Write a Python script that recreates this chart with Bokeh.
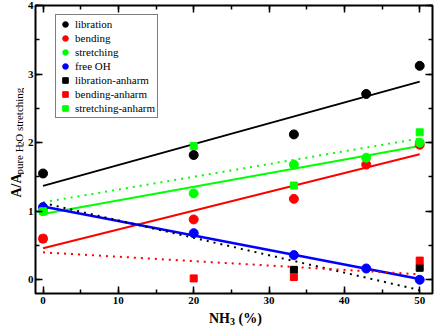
import math
from bokeh.plotting import figure
from bokeh.models import (Range1d, LinearAxis, SingleIntervalTicker, Legend, LegendItem,
                          CustomJSTickFormatter)
from bokeh.layouts import column, row
from bokeh.core.properties import value
from bokeh.embed import file_html
from bokeh.resources import INLINE

# ---------------- data ----------------
nh3 = [0, 20, 33.3, 42.9, 50]
libration = [1.55, 1.82, 2.12, 2.71, 3.12]
bending = [0.60, 0.88, 1.18, 1.68, 1.97]
stretching = [1.00, 1.26, 1.68, 1.78, 2.00]
free_oh = [1.06, 0.68, 0.36, 0.165, 0.00]

lib_anh_x = [33.3, 50]
libration_anharm = [0.145, 0.175]
nh3_anh = [0, 20, 33.3, 50]
bending_anharm = [0.60, 0.02, 0.04, 0.28]
stretching_anharm = [1.00, 1.95, 1.375, 2.15]

fit_x = [0, 50]
libration_fit = [1.37, 2.89]
bending_fit = [0.46, 1.83]
stretching_fit = [0.96, 1.95]
free_oh_fit = [1.07, 0.01]
libration_anharm_fit = [1.12, -0.15]
bending_anharm_fit = [0.40, 0.08]
stretching_anharm_fit = [1.13, 2.06]

legend_labels = ["libration", "bending", "stretching", "free OH",
                 "libration-anharm", "bending-anharm", "stretching-anharm"]
ylabel_parts = ["A/A", "pure H", "2", "O stretching"]
xlabel_parts = ["NH", "3", "(%)"]

FONT = "Liberation Serif"
W, H = 436, 327
YW = 24          # width of y-label strip
XH = 18          # height of x-label strip
MW, MH = W - YW, H - XH

# ---------------- main plot ----------------
p = figure(width=MW, height=MH, x_range=Range1d(-1, 51.7), y_range=Range1d(-0.2, 4),
           output_backend="svg", toolbar_location=None,
           x_axis_type=None, y_axis_type=None,
           min_border_left=9, min_border_right=4, min_border_top=5, min_border_bottom=16)
p.outline_line_color = "black"
p.outline_line_width = 2
p.xgrid.visible = False
p.ygrid.visible = False
p.background_fill_color = "white"
p.border_fill_color = "white"


def make_axis(interval, labels, standoff=3):
    ax = LinearAxis(ticker=SingleIntervalTicker(interval=interval, num_minor_ticks=2))
    ax.axis_label = None
    ax.axis_label_standoff = 0
    ax.axis_line_color = None
    ax.major_tick_in = 7
    ax.major_tick_out = 0
    ax.minor_tick_in = 4
    ax.minor_tick_out = 0
    ax.major_tick_line_width = 1.5
    ax.minor_tick_line_width = 1.5
    ax.major_tick_line_color = "black"
    ax.minor_tick_line_color = "black"
    if labels:
        ax.major_label_text_font = FONT
        ax.major_label_text_font_style = "bold"
        ax.major_label_text_font_size = "11px"
        ax.major_label_text_color = "black"
        ax.major_label_standoff = standoff
    else:
        ax.formatter = CustomJSTickFormatter(code="return ''")
        ax.major_label_standoff = 0
        ax.major_label_text_font_size = "1px"
    return ax


p.add_layout(make_axis(10, True, 3), "below")
p.add_layout(make_axis(10, False), "above")
p.add_layout(make_axis(1, True, 2), "left")
p.add_layout(make_axis(1, False), "right")

# fit lines
p.line(fit_x, libration_fit, line_color="black", line_width=2)
p.line(fit_x, bending_fit, line_color="#ff0000", line_width=2)
p.line(fit_x, stretching_fit, line_color="#00ff00", line_width=2)
p.line(fit_x, free_oh_fit, line_color="#0000ff", line_width=2.5)
p.line(fit_x, libration_anharm_fit, line_color="black", line_width=2, line_dash="2 5")
p.line(fit_x, bending_anharm_fit, line_color="#ff0000", line_width=2, line_dash="2 5")
p.line(fit_x, stretching_anharm_fit, line_color="#00ff00", line_width=2, line_dash="2 5")

# points
r1 = p.scatter(nh3, libration, marker="circle", size=9, color="black")
r2 = p.scatter(nh3, bending, marker="circle", size=9, color="#ff0000")
r3 = p.scatter(nh3, stretching, marker="circle", size=9, color="#00ff00")
r4 = p.scatter(nh3, free_oh, marker="circle", size=9, color="#0000ff")
r5 = p.scatter(lib_anh_x, libration_anharm, marker="square", size=7, color="black")
r6 = p.scatter(nh3_anh, bending_anharm, marker="square", size=7, color="#ff0000")
r7 = p.scatter(nh3_anh, stretching_anharm, marker="square", size=7, color="#00ff00")

rends = [r1, r2, r3, r4, r5, r6, r7]
legend = Legend(items=[LegendItem(label=l, renderers=[r]) for l, r in zip(legend_labels, rends)],
                location=(20, 175))
legend.margin = 0
legend.padding = 2
legend.spacing = 0
legend.glyph_width = 14
legend.glyph_height = 14
legend.label_height = 14
legend.label_standoff = 3
legend.label_text_font = FONT
legend.label_text_font_size = "11px"
legend.label_text_color = "black"
legend.label_text_baseline = "middle"
legend.border_line_color = "black"
legend.border_line_width = 1.5
legend.background_fill_color = "white"
legend.background_fill_alpha = 1
p.add_layout(legend, "center")


def strip(w, h):
    f = figure(width=w, height=h, x_range=Range1d(0, w), y_range=Range1d(0, h),
               x_axis_type=None, y_axis_type=None, toolbar_location=None,
               output_backend="svg", min_border=0, min_border_left=0, min_border_right=0,
               min_border_top=0, min_border_bottom=0)
    f.outline_line_color = None
    f.background_fill_color = "white"
    f.border_fill_color = "white"
    return f


def txt(f, x, y, s, size, bold, angle=0.0):
    f.text(x=[x], y=[y], text=[s], angle=angle, text_font=value(FONT),
           text_font_size=value(size), text_font_style="bold" if bold else "normal",
           text_color="black", text_align="left", text_baseline="alphabetic")


# ---------------- y label strip (rotated, reads bottom-to-top) ----------------
yf = strip(YW, MH)
A = math.pi / 2
y0 = MH - 206                        # start of "A/A" (page y 206)
w_AA = 1.722 * 14
w_pure = 2.749 * 11
w_2 = 0.5 * 9
txt(yf, 15.5, y0, ylabel_parts[0], "14px", True, A)
txt(yf, 18.0, y0 + w_AA + 0.5, ylabel_parts[1], "11px", False, A)
txt(yf, 20.0, y0 + w_AA + 0.8 + w_pure, ylabel_parts[2], "9px", False, A)
txt(yf, 18.0, y0 + w_AA + 1.0 + w_pure + w_2, ylabel_parts[3], "11px", False, A)

# ---------------- x label strip ----------------
xf = strip(W, XH)
x0 = 208.5
w_NH = 1.5 * 14
w_3 = 0.5 * 10
w_sp = 0.25 * 14
base = H - 318
txt(xf, x0, base, xlabel_parts[0], "14px", True)
txt(xf, x0 + w_NH, base - 3, xlabel_parts[1], "10px", True)
txt(xf, x0 + w_NH + w_3 + w_sp, base, xlabel_parts[2], "14px", True)

layout = column(row(yf, p), xf)
open("out.html", "w").write(file_html(layout, INLINE))
